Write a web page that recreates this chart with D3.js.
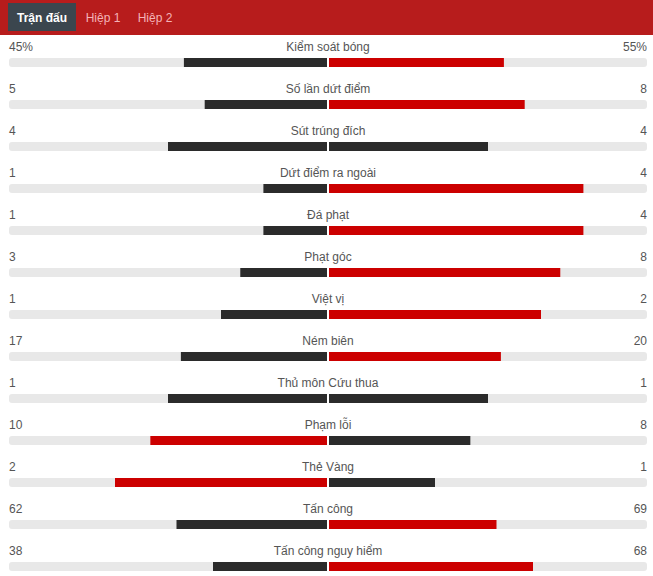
<!DOCTYPE html>
<html>
<head>
<meta charset="utf-8">
<script src="https://cdn.jsdelivr.net/npm/d3@7"></script>
<style>
  body { margin: 0; background: #fff; }
  svg { display: block; font-family: "Liberation Sans", Arial, sans-serif; }
</style>
</head>
<body>
<div id="chart"></div>
<script>
const tabs = ["Trận đấu", "Hiệp 1", "Hiệp 2"];
const statNames = ["Kiểm soát bóng", "Số lần dứt điểm", "Sút trúng đích", "Dứt điểm ra ngoài", "Đá phạt",
    "Phạt góc", "Việt vị", "Ném biên", "Thủ môn Cứu thua", "Phạm lỗi", "Thẻ Vàng", "Tấn công", "Tấn công nguy hiểm"];
const homeValues = [45, 5, 4, 1, 1, 3, 1, 17, 1, 10, 2, 62, 38];
const awayValues = [55, 8, 4, 4, 4, 8, 2, 20, 1, 8, 1, 69, 68];
const suffixes = ["%", "", "", "", "", "", "", "", "", "", "", "", ""];

const width = 653, height = 576;
const margin = { top: 35, left: 9, right: 6 };
const rowHeight = 42;
const center = 328;

const svg = d3.select("#chart")
    .append("svg")
    .attr("width", width)
    .attr("height", height);

// header
svg.append("rect")
    .attr("width", width)
    .attr("height", margin.top)
    .attr("fill", "#b71c1c");

const tabX = d3.scaleOrdinal().domain(tabs).range([42, 103, 155]);

svg.append("rect")
    .attr("x", 8).attr("y", 3)
    .attr("width", 68).attr("height", 28)
    .attr("fill", "#3b464e");

svg.selectAll(".tab")
    .data(tabs)
    .enter()
    .append("text")
    .attr("class", "tab")
    .attr("x", d => tabX(d))
    .attr("y", 22)
    .attr("text-anchor", "middle")
    .attr("font-size", "12px")
    .attr("font-weight", (d, i) => i ? "normal" : "bold")
    .attr("fill", (d, i) => i ? "#f4b3b8" : "#fff")
    .text(d => d);

const rows = statNames.map((name, i) => ({
    name,
    home: homeValues[i],
    away: awayValues[i],
    suffix: suffixes[i]
}));

const y = d3.scaleBand()
    .domain(statNames)
    .range([margin.top, margin.top + rowHeight * statNames.length]);

const leftX = d3.scaleLinear().domain([0, 1]).range([center - 1, margin.left]);
const rightX = d3.scaleLinear().domain([0, 1]).range([center + 1, width - margin.right]);

const row = svg.selectAll(".row")
    .data(rows)
    .enter()
    .append("g")
    .attr("class", "row")
    .attr("transform", d => `translate(0,${y(d.name)})`);

const textY = 15.5, barY = 23, barH = 9;

row.append("text")
    .attr("x", margin.left)
    .attr("y", textY)
    .attr("font-size", "12px")
    .attr("fill", "#555")
    .text(d => d.home + d.suffix);

row.append("text")
    .attr("x", width - margin.right)
    .attr("y", textY)
    .attr("text-anchor", "end")
    .attr("font-size", "12px")
    .attr("fill", "#555")
    .text(d => d.away + d.suffix);

row.append("text")
    .attr("x", center)
    .attr("y", textY)
    .attr("text-anchor", "middle")
    .attr("font-size", "12px")
    .attr("fill", "#555")
    .text(d => d.name);

// tracks
row.append("rect")
    .attr("x", leftX(1))
    .attr("y", barY)
    .attr("width", leftX(0) - leftX(1))
    .attr("height", barH)
    .attr("rx", 3)
    .attr("fill", "#e8e8e8");

row.append("rect")
    .attr("x", rightX(0))
    .attr("y", barY)
    .attr("width", rightX(1) - rightX(0))
    .attr("height", barH)
    .attr("rx", 3)
    .attr("fill", "#e8e8e8");

const dark = "#2b2b2b", red = "#cc0000";

row.append("rect")
    .attr("x", d => leftX(d.home / (d.home + d.away)))
    .attr("y", barY)
    .attr("width", d => leftX(0) - leftX(d.home / (d.home + d.away)))
    .attr("height", barH)
    .attr("fill", d => d.home > d.away ? red : dark);

row.append("rect")
    .attr("x", rightX(0))
    .attr("y", barY)
    .attr("width", d => rightX(d.away / (d.home + d.away)) - rightX(0))
    .attr("height", barH)
    .attr("fill", d => d.away > d.home ? red : dark);
</script>
</body>
</html>
